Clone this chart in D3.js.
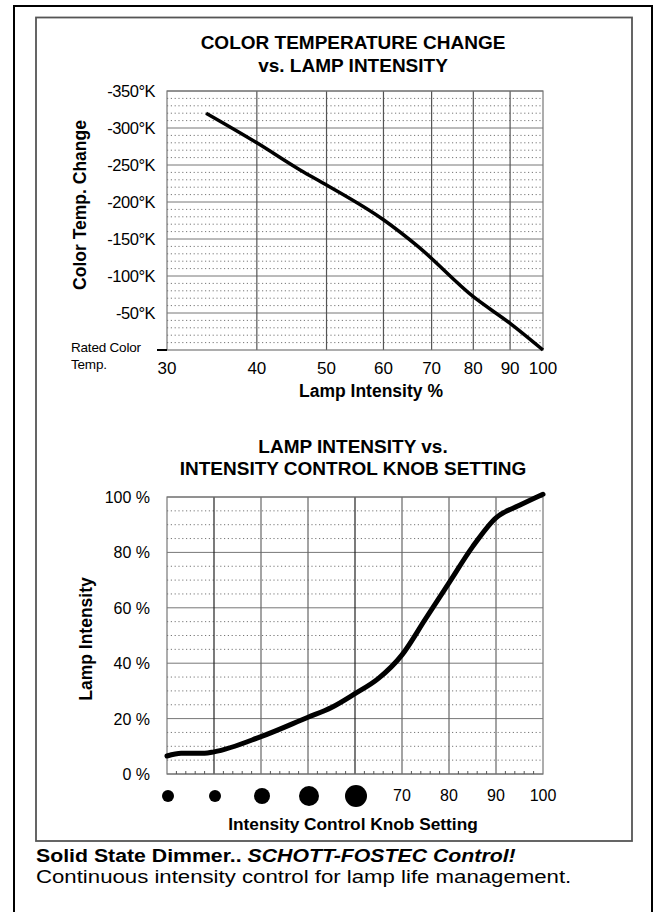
<!DOCTYPE html>
<html>
<head>
<meta charset="utf-8">
<script src="https://cdn.jsdelivr.net/npm/d3@7"></script>
<style>
  body { margin: 0; background: #fff; }
  svg { display: block; font-family: "Liberation Sans", Arial, Helvetica, sans-serif; }
</style>
</head>
<body>
<script>
// top chart: color temp change vs lamp intensity
const tempIntensity = [34, 40, 46, 50, 60, 67, 80, 90, 100];
const tempChange = [-320, -280, -243, -223, -176, -140, -72, -36, 0];
const tempXTicks = [30, 40, 50, 60, 70, 80, 90, 100];
const tempYTicks = [-350, -300, -250, -200, -150, -100, -50];

// bottom chart: lamp intensity vs knob setting
const knobSetting = [20, 23, 28, 30, 40, 50, 55, 60, 65, 70, 75, 80, 85, 90, 95, 100];
const lampIntensity = [6.5, 7.5, 7.5, 8, 13.5, 20.5, 24, 29, 34.5, 43, 56, 69, 82, 92.5, 97, 101];
const knobLabels = [70, 80, 90, 100];
const knobDots = [20, 30, 40, 50, 60];
const knobDotSize = [6, 6, 8, 10, 11];
const lampYTicks = [0, 20, 40, 60, 80, 100];

const width = 658, height = 912;

var svg = d3.select("body").append("svg")
    .attr("width", width)
    .attr("height", height);

// frames
svg.append("rect").attr("x", 14).attr("y", 6).attr("width", 638).attr("height", 920)
    .attr("fill", "none").attr("stroke", "#000").attr("stroke-width", 2);
svg.append("rect").attr("x", 36).attr("y", 17.5).attr("width", 596).attr("height", 823.5)
    .attr("fill", "none").attr("stroke", "#555").attr("stroke-width", 1.8);

const gray = "#777";
const dots = "1.2,2.6";

// ---------- top chart ----------
var x1 = d3.scaleLog().domain([30, 100]).range([167, 543]);
var y1 = d3.scaleLinear().domain([0, -350]).range([350, 91]);

var g1 = svg.append("g");

// dotted minor lines every 10
g1.selectAll(".minor")
    .data(d3.range(-10, -350, -10).filter(v => v % 50 != 0))
    .join("line")
    .attr("x1", 167).attr("x2", 543)
    .attr("y1", d => y1(d)).attr("y2", d => y1(d))
    .attr("stroke", "#777").attr("stroke-width", 1).attr("stroke-dasharray", dots);

g1.selectAll(".major")
    .data(tempYTicks)
    .join("line")
    .attr("x1", 167).attr("x2", 543)
    .attr("y1", d => y1(d)).attr("y2", d => y1(d))
    .attr("stroke", gray).attr("stroke-width", 1);

g1.selectAll(".vert")
    .data(tempXTicks.slice(1, -1))
    .join("line")
    .attr("x1", d => x1(d)).attr("x2", d => x1(d))
    .attr("y1", y1(-350)).attr("y2", y1(0))
    .attr("stroke", "#555").attr("stroke-width", 1.2);

g1.append("rect")
    .attr("x", 167).attr("y", y1(-350))
    .attr("width", 543 - 167).attr("height", y1(0) - y1(-350))
    .attr("fill", "none").attr("stroke", gray).attr("stroke-width", 1.2);

g1.append("line").attr("x1", 157).attr("x2", 167).attr("y1", y1(0)).attr("y2", y1(0))
    .attr("stroke", "#000").attr("stroke-width", 2);

g1.selectAll(".ylab")
    .data(tempYTicks)
    .join("text")
    .attr("x", 155).attr("y", d => y1(d) + 6)
    .attr("text-anchor", "end").attr("font-size", 16.5)
    .attr("letter-spacing", -0.5)
    .text(d => d + "°K");

g1.selectAll(".xlab")
    .data(tempXTicks)
    .join("text")
    .attr("x", d => x1(d)).attr("y", 374)
    .attr("text-anchor", "middle").attr("font-size", 17)
    .text(d => d);

g1.append("text").attr("x", 71).attr("y", 352).attr("font-size", 13.5).attr("letter-spacing", -0.2).text("Rated Color");
g1.append("text").attr("x", 71).attr("y", 369).attr("font-size", 13.5).attr("letter-spacing", -0.2).text("Temp.");

g1.append("text")
    .attr("transform", "translate(86,205) rotate(-90)")
    .attr("text-anchor", "middle").attr("font-size", 17.5).attr("font-weight", "bold")
    .text("Color Temp. Change");

g1.append("text").attr("x", 371).attr("y", 397)
    .attr("text-anchor", "middle").attr("font-size", 17.5).attr("font-weight", "bold")
    .text("Lamp Intensity  %");

g1.append("text").attr("x", 353).attr("y", 49)
    .attr("text-anchor", "middle").attr("font-size", 19).attr("font-weight", "bold")
    .text("COLOR TEMPERATURE CHANGE");
g1.append("text").attr("x", 353).attr("y", 72)
    .attr("text-anchor", "middle").attr("font-size", 19).attr("font-weight", "bold")
    .text("vs. LAMP INTENSITY");

var line1 = d3.line()
    .x((d, i) => x1(tempIntensity[i]))
    .y(d => y1(d))
    .curve(d3.curveMonotoneX);

g1.append("path")
    .attr("d", line1(tempChange))
    .attr("fill", "none").attr("stroke", "#000").attr("stroke-width", 3.5);

// ---------- bottom chart ----------
var x2 = d3.scaleLinear().domain([20, 100]).range([167, 543]);
var y2 = d3.scaleLinear().domain([0, 100]).range([774, 497]);

var g2 = svg.append("g");

g2.selectAll(".minor")
    .data(d3.range(5, 100, 5).filter(v => v % 20 != 0))
    .join("line")
    .attr("x1", 167).attr("x2", 543)
    .attr("y1", d => y2(d)).attr("y2", d => y2(d))
    .attr("stroke", "#777").attr("stroke-width", 1).attr("stroke-dasharray", dots);

g2.selectAll(".major")
    .data(lampYTicks)
    .join("line")
    .attr("x1", 167).attr("x2", 543)
    .attr("y1", d => y2(d)).attr("y2", d => y2(d))
    .attr("stroke", gray).attr("stroke-width", 1);

g2.selectAll(".vert")
    .data(d3.range(30, 100, 10))
    .join("line")
    .attr("x1", d => x2(d)).attr("x2", d => x2(d))
    .attr("y1", y2(100)).attr("y2", y2(0))
    .attr("stroke", d => (d == 30 || d == 60) ? "#222" : "#666")
    .attr("stroke-width", 1.2);

g2.append("rect")
    .attr("x", 167).attr("y", y2(100))
    .attr("width", 543 - 167).attr("height", y2(0) - y2(100))
    .attr("fill", "none").attr("stroke", gray).attr("stroke-width", 1.2);

// little ticks on the bottom axis
g2.selectAll(".tick")
    .data(d3.range(22, 100, 2).filter(v => v % 10 != 0))
    .join("line")
    .attr("x1", d => x2(d)).attr("x2", d => x2(d))
    .attr("y1", y2(0)).attr("y2", y2(0) - 3)
    .attr("stroke", "#555").attr("stroke-width", 1);

g2.selectAll(".ylab")
    .data(lampYTicks)
    .join("text")
    .attr("x", 150).attr("y", d => y2(d) + 6)
    .attr("text-anchor", "end").attr("font-size", 16)
    .text(d => d + " %");

g2.selectAll(".xlab")
    .data(knobLabels)
    .join("text")
    .attr("x", d => x2(d)).attr("y", 801)
    .attr("text-anchor", "middle").attr("font-size", 16)
    .text(d => d);

g2.selectAll(".knob")
    .data(knobDots)
    .join("circle")
    .attr("cx", d => x2(d) + 1)
    .attr("cy", 796)
    .attr("r", (d, i) => knobDotSize[i])
    .attr("fill", "#000");

g2.append("text")
    .attr("transform", "translate(92,639) rotate(-90)")
    .attr("text-anchor", "middle").attr("font-size", 17.5).attr("font-weight", "bold")
    .text("Lamp Intensity");

g2.append("text").attr("x", 353).attr("y", 830)
    .attr("text-anchor", "middle").attr("font-size", 17.3).attr("font-weight", "bold")
    .text("Intensity Control Knob Setting");

g2.append("text").attr("x", 353).attr("y", 453)
    .attr("text-anchor", "middle").attr("font-size", 19).attr("font-weight", "bold")
    .text("LAMP INTENSITY vs.");
g2.append("text").attr("x", 353).attr("y", 475)
    .attr("text-anchor", "middle").attr("font-size", 19).attr("font-weight", "bold")
    .text("INTENSITY CONTROL KNOB SETTING");

var line2 = d3.line()
    .x((d, i) => x2(knobSetting[i]))
    .y(d => y2(d))
    .curve(d3.curveMonotoneX);

g2.append("path")
    .attr("d", line2(lampIntensity))
    .attr("fill", "none").attr("stroke", "#000").attr("stroke-width", 5)
    .attr("stroke-linecap", "round");

// ---------- footer ----------
var t1 = svg.append("text").attr("transform", "translate(36,862) scale(1.12,1)").attr("font-size", 19);
t1.append("tspan").attr("font-weight", "bold").text("Solid State Dimmer.. ");
t1.append("tspan").attr("font-weight", "bold").attr("font-style", "italic").text("SCHOTT-FOSTEC Control!");

svg.append("text").attr("transform", "translate(36,883) scale(1.2,1)").attr("font-size", 18.5)
    .text("Continuous intensity control for lamp life management.");
</script>
</body>
</html>
